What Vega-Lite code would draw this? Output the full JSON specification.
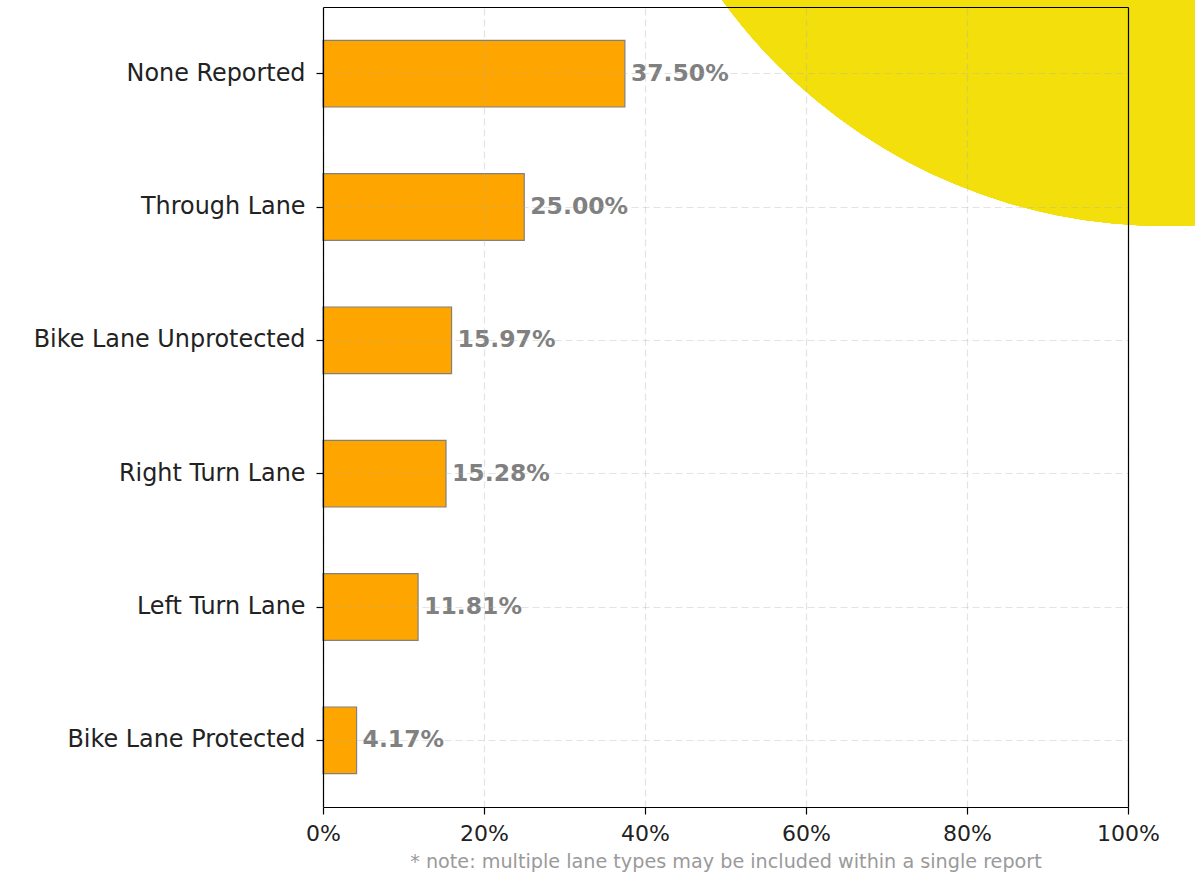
{
  "$schema": "https://vega.github.io/schema/vega-lite/v6.json",
  "width": 805,
  "height": 800,
  "autosize": {"type": "none"},
  "padding": {"left": 323, "top": 7, "right": 67, "bottom": 70},
  "background": "white",
  "config": {
    "view": {"stroke": null},
    "font": "DejaVu Sans"
  },
  "data": {
    "values": [
      {"lane": "None Reported", "share": 0.375},
      {"lane": "Through Lane", "share": 0.25},
      {"lane": "Bike Lane Unprotected", "share": 0.1597},
      {"lane": "Right Turn Lane", "share": 0.1528},
      {"lane": "Left Turn Lane", "share": 0.1181},
      {"lane": "Bike Lane Protected", "share": 0.0417}
    ]
  },
  "layer": [
    {
      "mark": {"type": "point", "shape": "circle", "filled": true, "opacity": 1, "color": "#F2DF0B", "size": 1196836, "clip": false},
      "encoding": {
        "x": {"datum": 1.046, "type": "quantitative", "scale": {"domain": [0, 1], "nice": false, "zero": false},
          "axis": {"orient": "top", "domain": true, "domainColor": "#000000", "domainWidth": 1.2, "ticks": false, "labels": false, "grid": false, "title": null, "zindex": 2}},
        "y": {"datum": 1.41, "type": "quantitative", "scale": {"domain": [0, 1], "nice": false, "zero": false},
          "axis": {"orient": "right", "domain": true, "domainColor": "#000000", "domainWidth": 1.2, "ticks": false, "labels": false, "grid": false, "title": null, "zindex": 2}}
      }
    },
    {
      "layer": [
        {
          "mark": {"type": "bar", "color": "#FFA500", "stroke": "#808080", "strokeWidth": 1.2},
          "encoding": {
            "y": {"field": "lane", "type": "nominal", "sort": null,
              "scale": {"paddingInner": 0.5, "paddingOuter": 0.25},
              "axis": {"title": null, "domainColor": "#000000", "domainWidth": 1.2, "tickColor": "#000000", "tickSize": 7, "tickWidth": 1.2,
                "labelFontSize": 23.9, "labelColor": "#222222", "labelPadding": 11, "labelFont": "DejaVu Sans", "labelLimit": 500,
                "grid": true, "gridColor": "#b0b0b0", "gridOpacity": 0.35, "gridDash": [7, 4], "gridWidth": 1.2, "zindex": 1}},
            "x": {"field": "share", "type": "quantitative",
              "scale": {"domain": [0, 1], "nice": false},
              "axis": {"values": [0, 0.2, 0.4, 0.6, 0.8, 1], "format": ".0%", "domainColor": "#000000", "domainWidth": 1.2,
                "tickColor": "#000000", "tickSize": 7, "tickWidth": 1.2, "labelFontSize": 22, "labelColor": "#222222", "labelPadding": 9,
                "labelFont": "DejaVu Sans", "labelFlush": false,
                "grid": true, "gridColor": "#b0b0b0", "gridOpacity": 0.35, "gridDash": [7, 4], "gridWidth": 1.2, "zindex": 1,
                "title": "* note: multiple lane types may be included within a single report", "titleFontSize": 19.2, "titleColor": "#9a9a9a",
                "titleFontWeight": "normal", "titleFont": "DejaVu Sans", "titlePadding": 8}}
          }
        },
        {
          "mark": {"type": "text", "align": "left", "baseline": "middle", "dx": 6, "fontSize": 23.5, "fontWeight": "bold", "color": "#808080", "font": "DejaVu Sans"},
          "encoding": {
            "y": {"field": "lane", "type": "nominal", "sort": null},
            "x": {"field": "share", "type": "quantitative"},
            "text": {"field": "share", "type": "quantitative", "format": ".2%"}
          }
        }
      ]
    }
  ],
  "resolve": {"scale": {"x": "independent", "y": "independent"}, "axis": {"x": "independent", "y": "independent"}}
}
